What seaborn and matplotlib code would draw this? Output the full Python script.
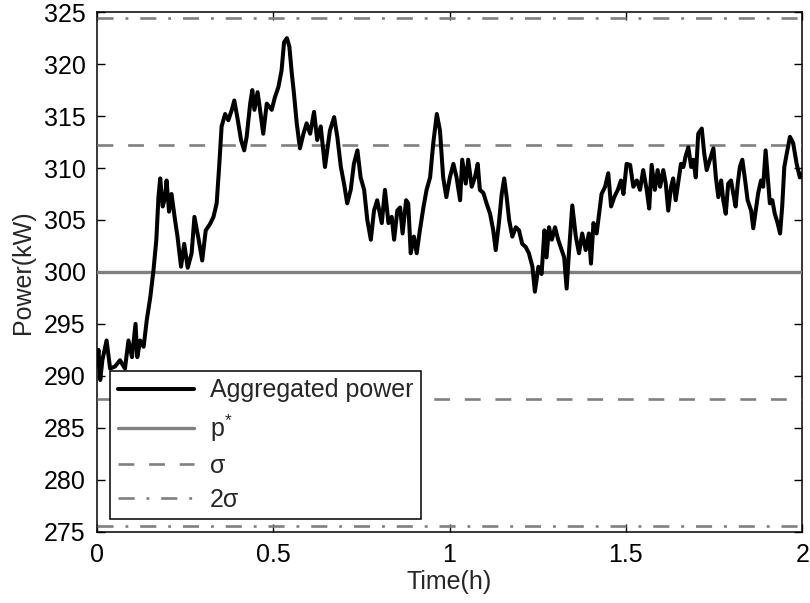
import matplotlib
matplotlib.use("Agg")
import matplotlib.pyplot as plt
import seaborn as sns
import pandas as pd

# ---------------- data ----------------
time_h = [
    0.000, 0.005, 0.010, 0.016, 0.028, 0.038, 0.052, 0.066, 0.080, 0.090,
    0.100, 0.110, 0.115, 0.123, 0.133, 0.142, 0.152, 0.161, 0.169, 0.175,
    0.180, 0.187, 0.194, 0.198, 0.205, 0.212, 0.222, 0.229, 0.239, 0.248,
    0.258, 0.269, 0.277, 0.289, 0.299, 0.309, 0.321, 0.331, 0.340, 0.347,
    0.354, 0.364, 0.373, 0.383, 0.390, 0.400, 0.409, 0.418, 0.425, 0.435,
    0.441, 0.447, 0.456, 0.463, 0.472, 0.482, 0.496, 0.505, 0.515, 0.524,
    0.531, 0.539, 0.546, 0.553, 0.559, 0.567, 0.576, 0.586, 0.595, 0.605,
    0.616, 0.625, 0.635, 0.647, 0.661, 0.673, 0.682, 0.692, 0.701, 0.710,
    0.720, 0.729, 0.739, 0.748, 0.758, 0.767, 0.777, 0.786, 0.795, 0.808,
    0.817, 0.827, 0.836, 0.843, 0.852, 0.860, 0.867, 0.877, 0.883, 0.890,
    0.899, 0.907, 0.916, 0.926, 0.935, 0.945, 0.954, 0.964, 0.973, 0.982,
    0.991, 1.001, 1.011, 1.020, 1.030, 1.036, 1.046, 1.053, 1.063, 1.072,
    1.080, 1.086, 1.096, 1.105, 1.115, 1.124, 1.131, 1.140, 1.148, 1.155,
    1.162, 1.169, 1.178, 1.188, 1.197, 1.206, 1.216, 1.225, 1.235, 1.242,
    1.252, 1.261, 1.269, 1.275, 1.282, 1.290, 1.299, 1.308, 1.318, 1.325,
    1.332, 1.339, 1.348, 1.358, 1.367, 1.376, 1.386, 1.395, 1.401, 1.408,
    1.417, 1.424, 1.431, 1.441, 1.450, 1.458, 1.467, 1.477, 1.486, 1.493,
    1.502, 1.512, 1.521, 1.531, 1.540, 1.549, 1.559, 1.566, 1.573, 1.582,
    1.590, 1.597, 1.606, 1.613, 1.620, 1.628, 1.634, 1.641, 1.649, 1.656,
    1.663, 1.669, 1.677, 1.685, 1.691, 1.698, 1.705, 1.715, 1.722, 1.729,
    1.738, 1.748, 1.755, 1.762, 1.770, 1.776, 1.783, 1.790, 1.798, 1.804,
    1.811, 1.817, 1.823, 1.830, 1.838, 1.845, 1.855, 1.861, 1.868, 1.875,
    1.883, 1.889, 1.896, 1.902, 1.908, 1.915, 1.922, 1.930, 1.937, 1.943,
    1.949, 1.956, 1.965, 1.974, 1.984, 1.993, 2.000,
]
power_kw = [
    291.0, 292.5, 289.6, 291.5, 293.4, 290.7, 290.9, 291.5, 290.7, 293.4,
    291.8, 295.0, 291.8, 293.4, 292.8, 295.4, 297.6, 300.2, 303.1, 307.2,
    309.0, 306.3, 307.2, 308.8, 305.8, 307.5, 305.0, 303.4, 300.5, 302.7,
    300.4, 301.8, 305.3, 303.1, 301.1, 304.0, 304.6, 305.3, 306.6, 310.1,
    314.0, 315.2, 314.6, 315.6, 316.5, 314.6, 312.7, 311.7, 313.0, 316.2,
    317.5, 315.6, 317.3, 315.6, 313.3, 316.2, 315.6, 316.8, 317.8, 319.4,
    322.1, 322.5, 321.7, 319.1, 317.2, 314.3, 311.9, 313.3, 314.3, 313.3,
    315.4, 312.7, 314.0, 310.1, 313.6, 314.9, 313.0, 310.1, 308.5, 306.6,
    307.9, 310.4, 311.7, 309.1, 307.9, 305.0, 303.1, 305.9, 306.9, 304.7,
    307.9, 304.7, 305.3, 303.1, 305.9, 306.2, 303.7, 306.9, 306.6, 301.8,
    303.4, 301.8, 304.0, 306.2, 307.9, 309.1, 312.4, 315.2, 313.6, 309.1,
    307.2, 309.1, 310.4, 309.1, 306.9, 310.8, 308.5, 310.8, 308.2, 309.1,
    310.4, 307.9, 307.6, 306.6, 305.6, 304.0, 302.1, 304.7, 307.5, 309.0,
    307.2, 305.0, 303.4, 304.3, 304.0, 302.7, 302.4, 301.8, 300.5, 298.1,
    300.5, 299.8, 304.0, 301.4, 304.3, 303.1, 304.3, 303.1, 302.1, 301.4,
    298.4, 302.1, 306.4, 303.4, 301.8, 303.7, 302.1, 303.7, 300.8, 304.7,
    303.7, 305.6, 307.5, 308.2, 309.5, 306.3, 307.2, 307.9, 308.8, 307.5,
    310.4, 310.3, 308.2, 308.8, 307.9, 309.8, 307.9, 306.1, 310.3, 307.9,
    309.8, 308.2, 309.8, 308.5, 305.9, 308.2, 309.0, 306.9, 308.8, 310.4,
    310.1, 311.1, 312.0, 310.1, 310.8, 309.1, 313.3, 313.8, 311.4, 309.8,
    310.8, 311.9, 309.1, 307.2, 308.8, 306.9, 305.6, 308.5, 308.8, 307.6,
    306.3, 308.5, 310.1, 310.8, 308.8, 306.9, 305.9, 304.2, 305.9, 307.6,
    308.8, 308.2, 311.7, 309.1, 306.6, 306.9, 305.6, 304.7, 303.7, 306.3,
    310.1, 311.4, 313.0, 312.4, 310.4, 309.1, 309.5,
]
p_star = 300.0
sigma = 12.22
x_ticks = [0, 0.5, 1, 1.5, 2]
x_tick_labels = ["0", "0.5", "1", "1.5", "2"]
y_ticks = [275, 280, 285, 290, 295, 300, 305, 310, 315, 320, 325]
labels = ["Aggregated power", "p$^{*}$", "σ", "2σ"]

# ---------------- style ----------------
sns.set_style("white")
plt.rcParams["font.family"] = ["Liberation Sans", "DejaVu Sans"]
plt.rcParams["mathtext.fontset"] = "custom"
plt.rcParams["mathtext.rm"] = "Liberation Sans"
plt.rcParams["mathtext.it"] = "Liberation Sans"

FS = 18
fig = plt.figure(figsize=(8.10, 6.03), dpi=100)
ax = fig.add_axes([0.1194, 0.1183, 0.8711, 0.8615])

df = pd.DataFrame({"Time(h)": time_h, "Power(kW)": power_kw})
gray = "#808080"
LW = 1.9
dash = (6.0, 5.6)
dashdot = (6.1, 4.5, 1.1, 4.5)

sns.lineplot(data=df, x="Time(h)", y="Power(kW)", ax=ax, color="black",
             linewidth=2.9, label=labels[0], zorder=5)
ax.axhline(p_star, color=gray, linewidth=2.4, label=labels[1], zorder=3)
ax.axhline(p_star + sigma, color=gray, linewidth=LW, dashes=dash,
           label=labels[2], zorder=3)
ax.axhline(p_star - sigma, color=gray, linewidth=LW, dashes=dash, zorder=3)
ax.axhline(p_star + 2 * sigma, color=gray, linewidth=LW, dashes=dashdot,
           label=labels[3], zorder=3)
ax.axhline(p_star - 2 * sigma, color=gray, linewidth=LW, dashes=dashdot,
           zorder=3)

ax.set_xlim(0, 2)
ax.set_ylim(275, 325)
ax.set_xticks(x_ticks)
ax.set_xticklabels(x_tick_labels)
ax.set_yticks(y_ticks)
ax.tick_params(direction="in", length=6, width=1, labelsize=FS,
               top=True, right=True, bottom=True, left=True, colors="black",
               pad=8)
for s in ax.spines.values():
    s.set_color("black")
    s.set_linewidth(1.1)
    s.set_visible(True)
ax.set_xlabel("Time(h)", fontsize=FS, labelpad=2)
ax.set_ylabel("Power(kW)", fontsize=FS, labelpad=6)

leg = ax.legend(loc="lower left", bbox_to_anchor=(0.019, 0.024),
                fontsize=FS, frameon=True, fancybox=False, framealpha=1,
                edgecolor="black", handlelength=3.05, handletextpad=0.65,
                labelspacing=0.4, borderpad=0.3, borderaxespad=0)
leg.get_frame().set_linewidth(1.1)
leg.set_zorder(10)

fig.savefig("out.png", dpi=100, facecolor="white")
